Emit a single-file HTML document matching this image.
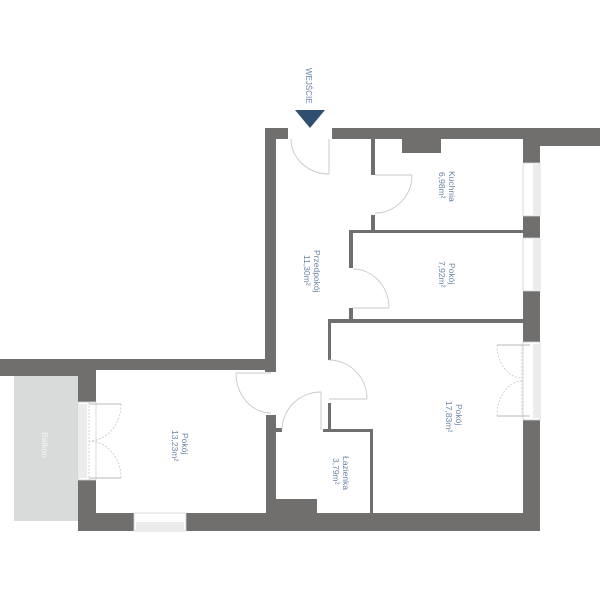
<!DOCTYPE html>
<html><head><meta charset="utf-8"><style>
html,body{margin:0;padding:0;background:#fff;}
svg{display:block;}
text{font-family:"Liberation Sans",sans-serif;font-size:8.5px;fill:#6a84a3;}
</style></head><body>
<svg width="600" height="600" viewBox="0 0 600 600" xmlns="http://www.w3.org/2000/svg">
<!-- balcony -->
<rect x="14" y="376" width="64" height="145" fill="#d9dbdb"/>
<g fill="#706f6e">
<!-- top walls -->
<rect x="265" y="128" width="23" height="11"/>
<rect x="332" y="128" width="208" height="11"/>
<rect x="523" y="128" width="77" height="18"/>
<!-- hallway left wall -->
<rect x="265" y="128" width="11" height="244"/>
<!-- left room top wall -->
<rect x="0" y="359" width="276" height="11"/>
<rect x="0" y="359" width="78" height="17"/>
<!-- left room exterior wall -->
<rect x="78" y="359" width="18" height="43"/>
<rect x="78" y="480" width="18" height="51"/>
<!-- bottom wall -->
<rect x="78" y="513" width="56" height="18"/>
<rect x="186" y="513" width="354" height="18"/>
<!-- right wall -->
<rect x="523" y="128" width="17" height="35"/>
<rect x="523" y="216" width="17" height="22"/>
<rect x="523" y="291" width="17" height="51"/>
<rect x="523" y="420" width="17" height="111"/>
<!-- left room / hall partition -->
<rect x="266" y="415" width="10" height="98"/>
<rect x="276" y="428" width="6" height="4"/>
<!-- bathroom -->
<rect x="276" y="499" width="41" height="14"/>
<rect x="370" y="429" width="3" height="84"/>
<rect x="323" y="429" width="50" height="3"/>
<rect x="328" y="319" width="3" height="41"/>
<rect x="328" y="403" width="3" height="29"/>
<!-- big room top wall -->
<rect x="328" y="319" width="195" height="4"/>
<!-- pokój 7.92 left wall -->
<rect x="349" y="230" width="4" height="38"/>
<rect x="349" y="308" width="4" height="12"/>
<rect x="349" y="230" width="174" height="3"/>
<!-- kitchen left wall -->
<rect x="371" y="139" width="4" height="36"/>
<rect x="371" y="215" width="4" height="16"/>
<!-- kitchen block -->
<rect x="402" y="139" width="39" height="14"/>
</g>
<!-- windows -->
<g fill="#fff" stroke="#cfcfcf" stroke-width="0.8">
<rect x="523" y="163" width="17" height="53"/>
<rect x="523" y="238" width="17" height="53"/>
<rect x="523" y="342" width="17" height="78"/>
<rect x="78" y="402" width="18" height="78"/>
<rect x="134" y="513" width="52" height="18"/>
</g>
<g fill="#ececec">
<rect x="533" y="163" width="7" height="53"/>
<rect x="533" y="238" width="7" height="53"/>
<rect x="533" y="344" width="7" height="74"/>
<rect x="79" y="404" width="8" height="74"/>
<rect x="136" y="522" width="48" height="9"/>
</g>
<!-- doors -->
<g fill="none" stroke="#c8c8c8" stroke-width="0.9">
<path d="M329 139 V174 M291 139 A38 35 0 0 0 329 174"/>
<path d="M375 175 H412 M412 175 A37 38 0 0 1 375 213"/>
<path d="M353 308 H389 M353 269 A36 39 0 0 1 389 308"/>
<path d="M271 373 H236 M236 373 A35 40 0 0 0 271 413"/>
<path d="M321 430 V392 M282 430 A39 38 0 0 1 321 392"/>
<path d="M329 399 H367 M329 360 A38 39 0 0 1 367 399"/>
</g>
<g fill="none" stroke="#c8c8c8" stroke-width="0.8" stroke-dasharray="2,1.5">
<path d="M522 345 V418"/>
<path d="M497 345 A25 33 0 0 0 522 378 M497 416 A25 35 0 0 1 522 381"/>
<path d="M89 402 V480"/>
<path d="M121 404 A32 37 0 0 1 89 441 M121 478 A32 37 0 0 0 89 441"/>
</g>
<g stroke="#c8c8c8" stroke-width="1.2">
<path d="M497 345 H530 M497 416 H530"/>
<path d="M89 404 H121 M89 478 H121"/>
</g>
<!-- entrance -->
<polygon points="295,110 325,110 310,128" fill="#2e4f6f"/>
<g>
<text transform="translate(306,68) rotate(90)" style="font-size:8px">WEJŚCIE</text>
<text transform="translate(449,171) rotate(90)">Kuchnia</text>
<text transform="translate(439,172) rotate(90)">6,98m²</text>
<text transform="translate(449,263) rotate(90)">Pokój</text>
<text transform="translate(439,261) rotate(90)">7,92m²</text>
<text transform="translate(314,250) rotate(90)">Przedpokój</text>
<text transform="translate(304,255) rotate(90)">11,30m²</text>
<text transform="translate(456,404) rotate(90)">Pokój</text>
<text transform="translate(446,401) rotate(90)">17,83m²</text>
<text transform="translate(182,433) rotate(90)">Pokój</text>
<text transform="translate(172,430) rotate(90)">13,23m²</text>
<text transform="translate(343,456) rotate(90)">Łazienka</text>
<text transform="translate(333,458) rotate(90)">3,79m²</text>
<text transform="translate(42,432) rotate(90)" style="fill:#f4f4f4">Balkon</text>
</g>
</svg>
</body></html>
